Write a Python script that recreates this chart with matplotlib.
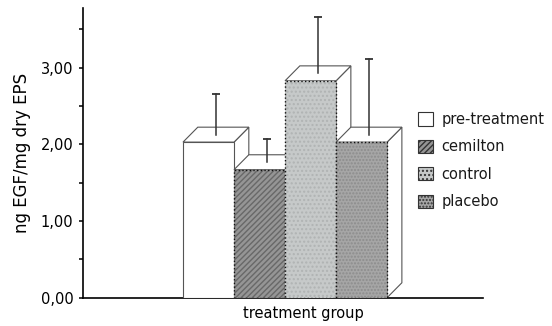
import numpy as np
import matplotlib.pyplot as plt
from matplotlib.patches import Polygon, Patch
from matplotlib.ticker import MultipleLocator, FuncFormatter

groups = ['pre-treatment', 'cemilton', 'control', 'placebo']
means = [2.03, 1.67, 2.83, 2.03]
errors = [0.53, 0.30, 0.73, 0.99]

fills = ['#ffffff', '#959595', '#c6c9c9', '#a6a6a6']
hatches = [None, '//////', '....', '.....']
hatch_cols = ['#ffffff', '#686868', '#b0b3b3', '#8c8c8c']

# 3-d depth of each column, in data units
DX, DY = 0.29, 0.195
W = 1.0

plt.rcParams['font.family'] = 'DejaVu Sans'
plt.rcParams['font.size'] = 10.5
plt.rcParams['text.color'] = '#1a1a1a'

fig = plt.figure(figsize=(5.52, 3.26), dpi=100)
ax = fig.add_axes([83 / 552, 28.3 / 326, 400 / 552, 289.7 / 326])

x = np.arange(len(groups))
for i in range(len(groups)):
    left, right = x[i] - W / 2, x[i] + W / 2
    h = means[i]
    z = 2 + i * 3
    # side and top faces
    side = Polygon([(right, 0), (right + DX, DY), (right + DX, h + DY), (right, h)],
                   closed=True, facecolor='white', edgecolor='#555555', lw=0.8, zorder=z)
    top = Polygon([(left, h), (left + DX, h + DY), (right + DX, h + DY), (right, h)],
                  closed=True, facecolor='white', edgecolor='#555555', lw=0.8, zorder=z)
    ax.add_patch(side)
    ax.add_patch(top)
    # front face
    if hatches[i] is None:
        ax.bar(x[i], h, W, color=fills[i], edgecolor='#555555', lw=0.8, zorder=z + 1)
    else:
        ax.bar(x[i], h, W, color=fills[i], edgecolor=hatch_cols[i], hatch=hatches[i],
               lw=0, zorder=z + 1)
        ax.bar(x[i], h, W, fill=False, edgecolor='#111111', lw=1.0, ls=':', zorder=z + 1)
    # upper error bar rising from the middle of the top face
    xc, base = x[i] + DX / 2, h + DY / 2
    ax.plot([xc, xc], [base, base + errors[i]], color='#333333', lw=1.1, zorder=z + 2)
    ax.plot([xc], [base + errors[i]], marker='_', ms=6, mew=1.3, color='#333333', zorder=z + 2)

ax.set_xlim(-2.46, 5.38)
ax.set_ylim(0, 3.78)
ax.spines['top'].set_visible(False)
ax.spines['right'].set_visible(False)
ax.spines['left'].set_linewidth(1.2)
ax.spines['bottom'].set_linewidth(1.2)
ax.set_xticks([])
ax.yaxis.set_major_locator(MultipleLocator(1))
ax.yaxis.set_minor_locator(MultipleLocator(0.5))
ax.yaxis.set_major_formatter(FuncFormatter(lambda v, p: f'{v:.2f}'.replace('.', ',')))
ax.tick_params(axis='y', which='both', direction='out', length=3, width=1.1, pad=4)

ax.set_xlabel('treatment group')
ax.xaxis.set_label_coords(0.55, -0.03)
ax.set_ylabel('ng EGF/mg dry EPS', fontsize=12)
ax.yaxis.set_label_coords(-0.13, 0.5)

handles = [Patch(facecolor=fills[i], edgecolor='#333333', hatch=hatches[i], lw=0.8)
           for i in range(len(groups))]
fig.legend(handles, groups, loc='upper left', bbox_to_anchor=(418 / 552, 214 / 326),
           frameon=False, handlelength=1.0, handleheight=1.0, handletextpad=0.6,
           labelspacing=0.85, borderpad=0, borderaxespad=0)

fig.savefig('out.png', dpi=100)
